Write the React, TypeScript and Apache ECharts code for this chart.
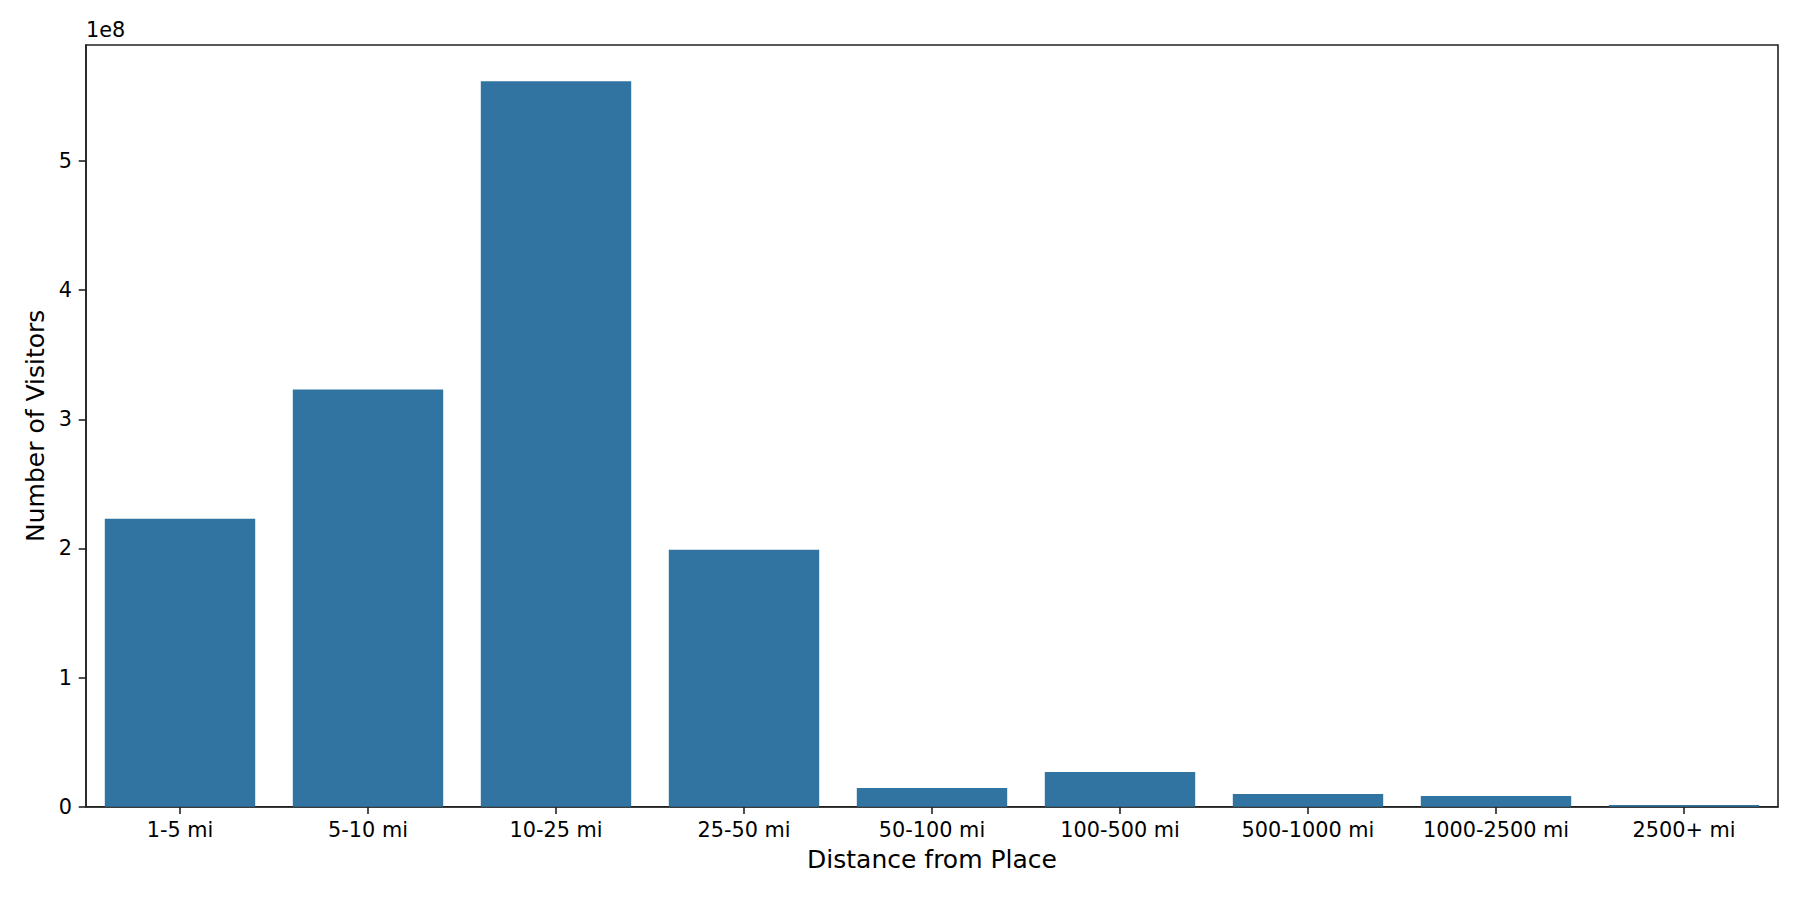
import React, { useEffect, useRef } from "react";
import * as echarts from "echarts";

const categories = [
  "1-5 mi",
  "5-10 mi",
  "10-25 mi",
  "25-50 mi",
  "50-100 mi",
  "100-500 mi",
  "500-1000 mi",
  "1000-2500 mi",
  "2500+ mi",
];
const visitors = [
  2.23e8, 3.23e8, 5.618e8, 1.99e8, 0.145e8, 0.269e8, 0.098e8, 0.083e8, 0.013e8,
];
const yTicks = [0, 1e8, 2e8, 3e8, 4e8, 5e8];
const yMax = 5.618e8 * 1.05;

const FONT = "DejaVu Sans";
const AXIS_COLOR = "#222222";

export default function App() {
  const ref = useRef<HTMLDivElement>(null);
  useEffect(() => {
    document.body.style.margin = "0";
    if (!ref.current) return;
    const chart = echarts.init(ref.current, undefined, { renderer: "svg" });
    chart.setOption({
      animation: false,
      backgroundColor: "#ffffff",
      textStyle: { fontFamily: FONT },
      grid: {
        left: 86,
        top: 45,
        width: 1692,
        height: 761.7,
        show: true,
        borderColor: AXIS_COLOR,
        borderWidth: 1.6,
        backgroundColor: "transparent",
      },
      graphic: [
        {
          type: "text",
          left: 86,
          top: 19,
          style: {
            text: "1e8",
            fontFamily: FONT,
            fontSize: 20.8,
            fill: "#000",
          },
        },
      ],
      xAxis: {
        type: "category",
        data: categories,
        name: "Distance from Place",
        nameLocation: "middle",
        nameGap: 40,
        nameTextStyle: { fontFamily: FONT, fontSize: 25, color: "#000" },
        axisLine: { show: true, lineStyle: { color: AXIS_COLOR, width: 1.6 } },
        axisTick: {
          show: true,
          alignWithLabel: true,
          length: 7.3,
          lineStyle: { color: AXIS_COLOR, width: 1.6 },
        },
        axisLabel: {
          fontFamily: FONT,
          fontSize: 20.8,
          color: "#000",
          margin: 13,
          interval: 0,
        },
        splitLine: { show: false },
      },
      yAxis: {
        type: "value",
        min: 0,
        max: yMax,
        name: "Number of Visitors",
        nameLocation: "middle",
        nameGap: 37,
        nameRotate: 90,
        nameTextStyle: { fontFamily: FONT, fontSize: 25, color: "#000" },
        axisLine: { show: true, lineStyle: { color: AXIS_COLOR, width: 1.6 } },
        axisTick: {
          show: true,
          length: 7.3,
          customValues: yTicks,
          lineStyle: { color: AXIS_COLOR, width: 1.6 },
        },
        axisLabel: {
          fontFamily: FONT,
          fontSize: 20.8,
          color: "#000",
          margin: 14,
          customValues: yTicks,
          formatter: (v: number) => String(Math.round(v / 1e8)),
        },
        splitLine: { show: false },
      },
      series: [
        {
          type: "bar",
          data: visitors,
          barCategoryGap: "20%",
          itemStyle: { color: "#3274a1" },
        },
      ],
    });
    return () => chart.dispose();
  }, []);
  return <div ref={ref} style={{ width: 1800, height: 900 }} />;
}
